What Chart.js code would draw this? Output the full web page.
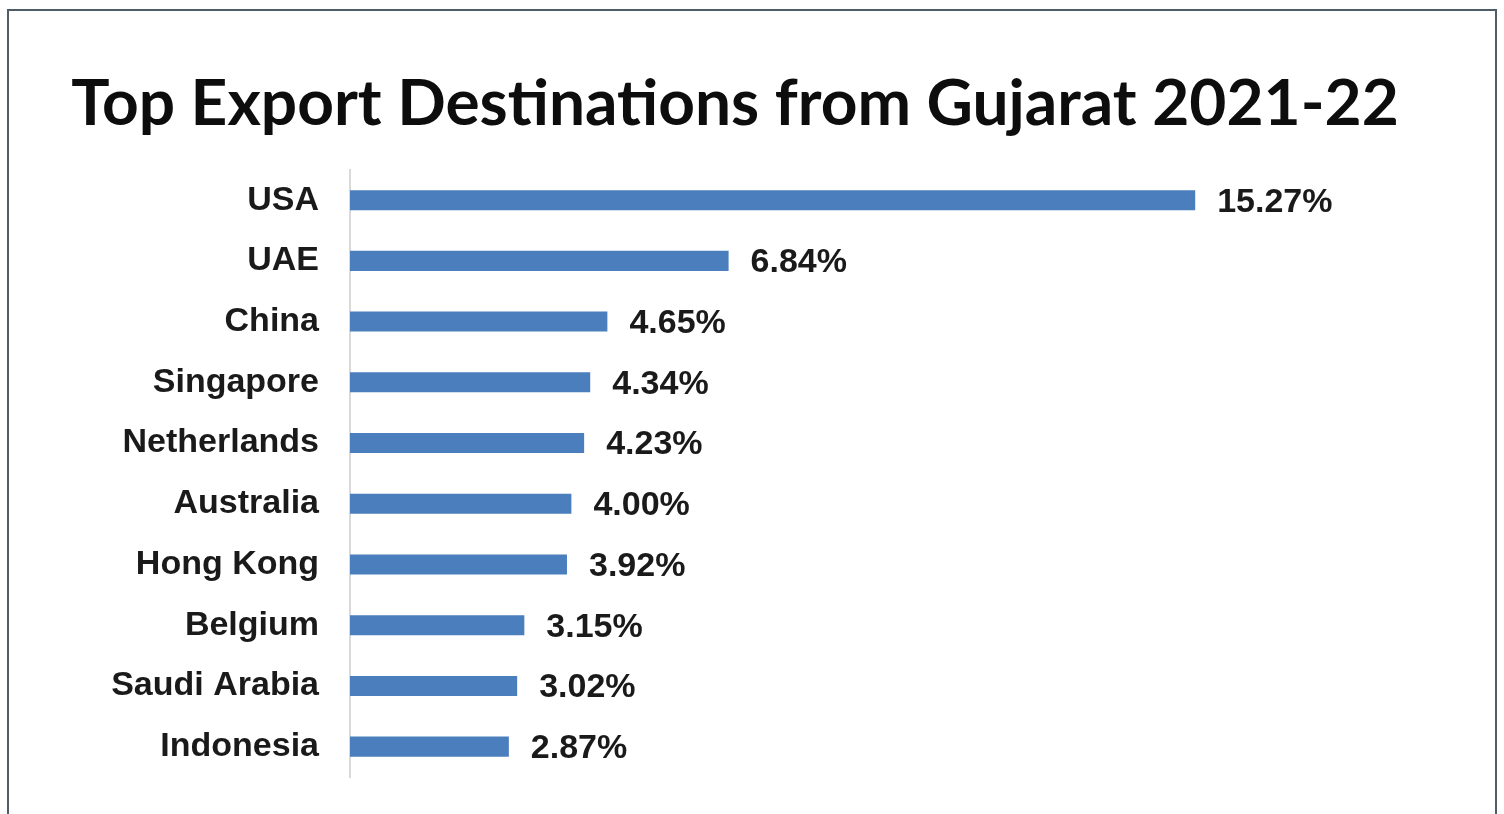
<!DOCTYPE html>
<html lang="en">
<head>
<meta charset="utf-8">
<title>Top Export Destinations from Gujarat 2021-22</title>
<script src="https://cdn.jsdelivr.net/npm/chart.js"></script>
<style>
html, body { margin: 0; padding: 0; background: #fff; }
#wrap { position: relative; width: 1504px; height: 814px; overflow: hidden; }
#frame {
    position: absolute; left: 7px; top: 9px; width: 1486px; height: 900px;
    border: 2px solid #4e5d68; pointer-events: none;
}
</style>
</head>
<body>
<div id="wrap">
    <canvas id="myChart" width="1504" height="814"></canvas>
    <div id="frame"></div>
</div>
<script>
const countries = ['USA', 'UAE', 'China', 'Singapore', 'Netherlands', 'Australia', 'Hong Kong', 'Belgium', 'Saudi Arabia', 'Indonesia'];
const shares = [15.27, 6.84, 4.65, 4.34, 4.23, 4.00, 3.92, 3.15, 3.02, 2.87];
const titleText = 'Top Export Destinations from Gujarat 2021-22';

// draws "15.27%" etc. right of each bar
const valueLabels = {
    id: 'valueLabels',
    afterDatasetsDraw(chart) {
        const ctx = chart.ctx;
        const meta = chart.getDatasetMeta(0);
        ctx.save();
        ctx.font = 'bold 34px "Liberation Sans", Arial, sans-serif';
        ctx.fillStyle = '#1a1a1a';
        ctx.textAlign = 'left';
        ctx.textBaseline = 'middle';
        meta.data.forEach((bar, i) => {
            ctx.fillText(shares[i].toFixed(2) + '%', bar.x + 22, bar.y + 2);
        });
        ctx.restore();
    }
};

Chart.defaults.font.family = '"Liberation Sans", Arial, sans-serif';

new Chart(document.getElementById('myChart'), {
    type: 'bar',
    data: {
        labels: countries,
        datasets: [{
            data: shares,
            backgroundColor: '#4a7ebd',
            barPercentage: 0.33,
            categoryPercentage: 1.0
        }]
    },
    options: {
        indexAxis: 'y',
        responsive: false,
        animation: false,
        layout: { padding: { left: 13, right: 47, top: 0, bottom: 37 } },
        plugins: {
            legend: { display: false },
            tooltip: { enabled: false },
            title: {
                display: true,
                text: titleText,
                color: '#0d0d0d',
                font: { family: 'Lato, "Open Sans", sans-serif', size: 64, weight: 'bold', lineHeight: 1.2 },
                padding: { top: 66, bottom: 27 }
            }
        },
        scales: {
            x: { display: false, min: 0, max: 20 },
            y: {
                afterFit(scale) {
                    scale.width = 337;
                    // tick padding would otherwise eat into the bottom
                    scale.paddingTop = 0;
                    scale.paddingBottom = 0;
                },
                grid: { display: false, drawTicks: false },
                border: { display: true, color: '#d9d9d9', width: 2 },
                ticks: {
                    color: '#1a1a1a',
                    padding: 31,
                    font: { size: 34, weight: 'bold' }
                }
            }
        }
    },
    plugins: [valueLabels]
});
</script>
</body>
</html>
